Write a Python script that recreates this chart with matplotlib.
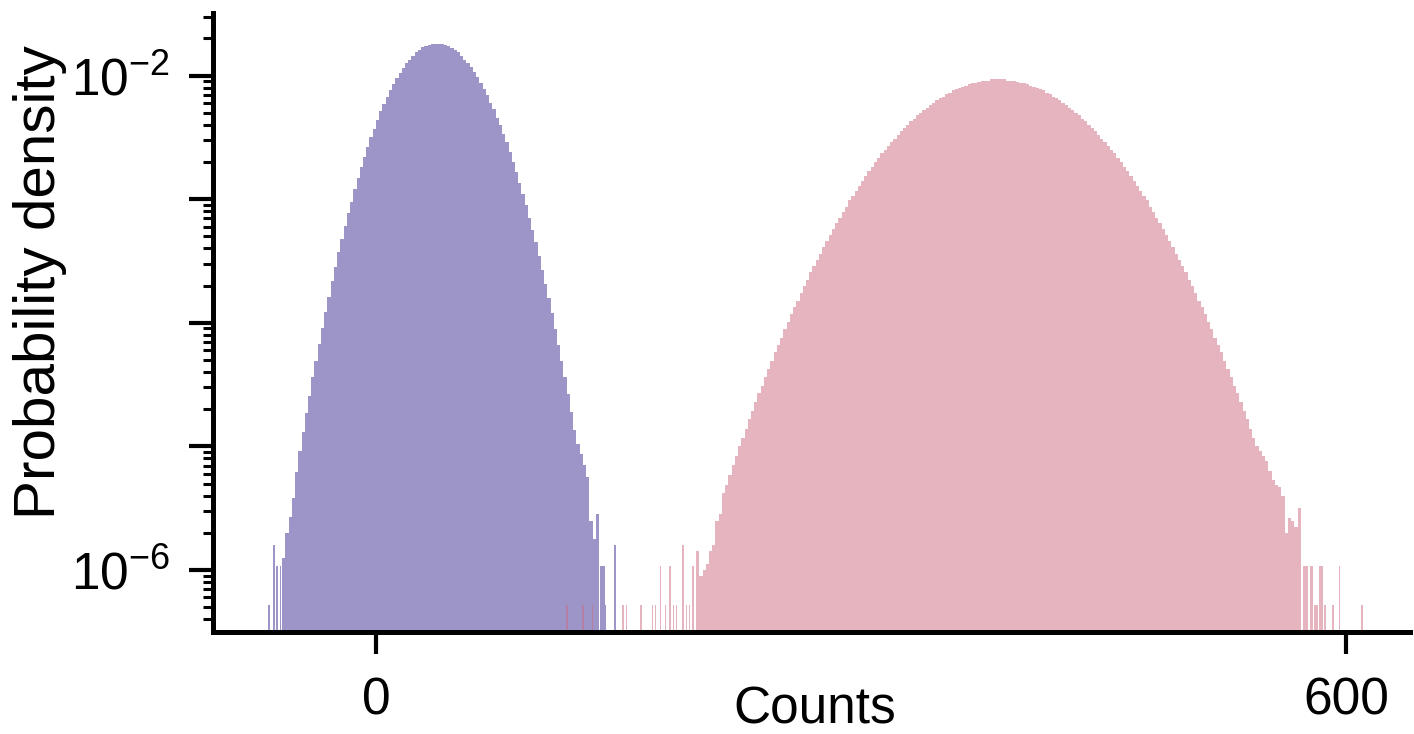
'''
log-density histograms of counts for the two conditions
'''

import numpy as np
import matplotlib
matplotlib.use('Agg')
import matplotlib.pyplot as plt
from matplotlib.ticker import LogLocator, FuncFormatter, NullFormatter

plt.rcParams['font.family'] = ['Liberation Sans', 'DejaVu Sans']
plt.rcParams['mathtext.fontset'] = 'custom'
plt.rcParams['mathtext.rm'] = 'Liberation Sans'
plt.rcParams['mathtext.it'] = 'Liberation Sans:italic'
plt.rcParams['mathtext.bf'] = 'Liberation Sans:bold'

# log10 probability density, bins of width 2 starting at the given centre
blue_start = -57
blue_logd = [-5.90, -5.70, -5.57, -5.42, -5.21, -5.04, -4.88, -4.73, -4.59, -4.44,
             -4.31, -4.17, -4.04, -3.91, -3.79, -3.66, -3.55, -3.43, -3.32, -3.22,
             -3.11, -3.02, -2.92, -2.83, -2.74, -2.66, -2.58, -2.50, -2.43, -2.36,
             -2.29, -2.23, -2.17, -2.12, -2.07, -2.02, -1.98, -1.94, -1.90, -1.87,
             -1.84, -1.81, -1.79, -1.77, -1.76, -1.75, -1.74, -1.74, -1.74, -1.74,
             -1.75, -1.76, -1.78, -1.79, -1.81, -1.84, -1.87, -1.90, -1.93, -1.97,
             -2.01, -2.06, -2.11, -2.16, -2.22, -2.27, -2.34, -2.40, -2.47, -2.54,
             -2.62, -2.70, -2.78, -2.87, -2.96, -3.05, -3.15, -3.25, -3.35, -3.46,
             -3.57, -3.69, -3.80, -3.92, -4.05, -4.18, -4.31, -4.44, -4.58, -4.72,
             -4.87, -4.98, -5.06, -5.15, -5.25, -5.60, -5.75, -5.55]
# isolated single-count bins in the tails (width 1)
blue_tail_x = [-66, -63, -61, -59, 139, 140, 141, 142, 148]
blue_tail_logd = [-6.28, -5.80, -5.97, -5.97, -5.97, -5.97, -5.97, -6.28, -5.80]

red_start = 199
red_logd = [-5.85, -6.05, -6.00, -5.95, -5.85, -5.80, -5.60, -5.55,
            -5.38, -5.31, -5.23, -5.15, -5.08, -5.00, -4.93, -4.86, -4.78, -4.71,
            -4.64, -4.57, -4.51, -4.44, -4.37, -4.31, -4.24, -4.18, -4.12, -4.05,
            -3.99, -3.93, -3.87, -3.82, -3.76, -3.70, -3.65, -3.59, -3.54, -3.49,
            -3.44, -3.39, -3.34, -3.29, -3.24, -3.19, -3.15, -3.10, -3.06, -3.01,
            -2.97, -2.93, -2.89, -2.85, -2.81, -2.77, -2.74, -2.70, -2.67, -2.63,
            -2.60, -2.57, -2.54, -2.51, -2.48, -2.45, -2.42, -2.40, -2.37, -2.35,
            -2.32, -2.30, -2.28, -2.26, -2.24, -2.22, -2.20, -2.18, -2.17, -2.15,
            -2.14, -2.12, -2.11, -2.10, -2.09, -2.08, -2.07, -2.06, -2.06, -2.05,
            -2.04, -2.04, -2.04, -2.03, -2.03,
            -2.03,
            -2.03, -2.03, -2.04, -2.04, -2.04, -2.05, -2.06, -2.06, -2.07, -2.08,
            -2.09, -2.10, -2.11, -2.12, -2.14, -2.15, -2.17, -2.18, -2.20, -2.22,
            -2.24, -2.26, -2.28, -2.30, -2.32, -2.35, -2.37, -2.40, -2.42, -2.45,
            -2.48, -2.51, -2.54, -2.57, -2.60, -2.63, -2.67, -2.70, -2.74, -2.77,
            -2.81, -2.85, -2.89, -2.93, -2.97, -3.01, -3.06, -3.10, -3.15, -3.19,
            -3.24, -3.29, -3.34, -3.39, -3.44, -3.49, -3.54, -3.59, -3.65, -3.70,
            -3.76, -3.82, -3.87, -3.93, -3.99, -4.05, -4.12, -4.18, -4.24, -4.31,
            -4.37, -4.44, -4.51, -4.57, -4.64, -4.71, -4.78, -4.86, -4.93,
            -5.00, -5.04, -5.08, -5.12, -5.20, -5.27, -5.31, -5.33, -5.40, -5.70,
            -5.58, -5.60, -5.65, -5.50]
red_tail_x = [118, 128, 134, 153, 155, 164, 171, 173, 176, 179, 182, 184, 186,
              190, 192, 194, 196,
              574, 575, 576, 578, 579, 581, 582, 584, 585, 587, 592, 596, 610]
red_tail_logd = [-6.28, -6.28, -6.28, -6.28, -6.28, -6.28, -6.28, -6.28, -5.97,
                 -6.28, -5.97, -6.28, -6.28, -5.80, -6.28, -6.28, -5.97,
                 -5.97, -5.97, -5.97, -5.97, -5.97, -6.28, -6.28, -5.97, -5.97,
                 -6.28, -6.28, -5.97, -6.28]

blue_col = '#3d2d91'
red_col = '#cd6b81'

fig = plt.figure(figsize=(14.14, 7.34), dpi=100)
ax = fig.add_axes([0.1506, 0.139, 0.8466, 0.843])

bx = blue_start + 2 * np.arange(len(blue_logd))
rx = red_start + 2 * np.arange(len(red_logd))
ax.bar(bx, 10 ** np.array(blue_logd), width=2, color=blue_col, alpha=0.5,
       linewidth=0, log=True)
ax.bar(blue_tail_x, 10 ** np.array(blue_tail_logd), width=1, color=blue_col,
       alpha=0.5, linewidth=0, log=True)
ax.bar(rx, 10 ** np.array(red_logd), width=2, color=red_col, alpha=0.5,
       linewidth=0, log=True)
ax.bar(red_tail_x, 10 ** np.array(red_tail_logd), width=1, color=red_col,
       alpha=0.5, linewidth=0, log=True)

ax.set_xlim(-100.8, 639.6)
ax.set_ylim(3.15e-7, 3.2e-2)

for s in ['top', 'right']:
    ax.spines[s].set_visible(False)
for s in ['left', 'bottom']:
    ax.spines[s].set_linewidth(3.6)

ax.set_xticks([0, 600])
ax.yaxis.set_major_locator(LogLocator(base=10, numticks=20))
ax.yaxis.set_minor_locator(LogLocator(base=10, subs=np.arange(2, 10), numticks=20))
shown = {-2, -6}
ax.yaxis.set_major_formatter(FuncFormatter(
    lambda v, p: r'$\mathdefault{10^{%d}}$' % round(np.log10(v))
    if round(np.log10(v)) in shown else ''))
ax.yaxis.set_minor_formatter(NullFormatter())

ax.tick_params(axis='x', which='major', length=16, width=3, labelsize=37, pad=16)
ax.tick_params(axis='y', which='major', length=17, width=3, labelsize=37, pad=14)
ax.tick_params(axis='y', which='minor', length=7.5, width=2.2)

ax.set_xlabel('Counts', fontsize=37)
ax.set_ylabel('Probability density', fontsize=42)
ax.xaxis.set_label_coords(0.503, -0.126)
ax.xaxis.label.set_va('center')
ax.yaxis.set_label_coords(-0.1445, 0.565)
ax.yaxis.label.set_va('center')

fig.savefig('out.png', dpi=100)
